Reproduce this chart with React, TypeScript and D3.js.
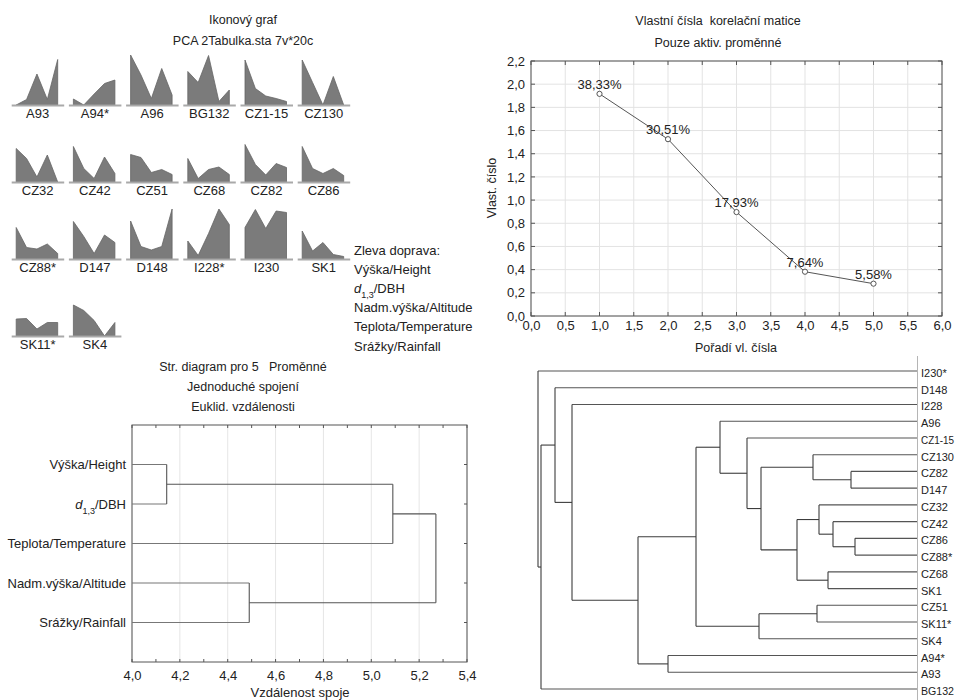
import React, { useEffect, useRef } from 'react'
import * as d3 from 'd3'

// ---- icon plot data (variables scaled 0..1, left to right)
const iconVariables = ['Výška/Height', 'd1,3/DBH', 'Nadm.výška/Altitude', 'Teplota/Temperature', 'Srážky/Rainfall']
const iconCases = ['A93', 'A94*', 'A96', 'BG132', 'CZ1-15', 'CZ130', 'CZ32', 'CZ42', 'CZ51', 'CZ68', 'CZ82', 'CZ86', 'CZ88*', 'D147', 'D148', 'I228*', 'I230', 'SK1', 'SK11*', 'SK4']
const iconValues = [
  [0, 0.11, 0.62, 0.11, 0.91],
  [0.12, 0, 0.22, 0.43, 0.5],
  [1.0, 0.6, 0.13, 0.73, 0.2],
  [0.67, 0.45, 0.99, 0.07, 0.3],
  [0.9, 0.33, 0.18, 0.13, 0.07],
  [0.9, 0.45, 0, 0.57, 0],
  [0.67, 0.47, 0.1, 0.54, 0],
  [0.71, 0.27, 0.07, 0.5, 0.17],
  [0.55, 0.49, 0.19, 0.25, 0.15],
  [0.47, 0.07, 0.25, 0.3, 0.15],
  [0.75, 0.35, 0.14, 0.37, 0.29],
  [0.71, 0.27, 0.17, 0.27, 0.13],
  [0.63, 0.23, 0.2, 0.3, 0.11],
  [0.75, 0.45, 0.11, 0.48, 0.33],
  [0.76, 0.25, 0.18, 0.25, 1.0],
  [0.36, 0.07, 0.51, 1.0, 0.69],
  [0.63, 0.99, 0.61, 0.96, 0.93],
  [0.56, 0.16, 0.33, 0.09, 0.05],
  [0.34, 0.35, 0.14, 0.27, 0.27],
  [0.62, 0.51, 0.31, 0, 0.27],
]

// ---- scree plot
const screeOrder = [1, 2, 3, 4, 5]
const screeEigen = [1.9165, 1.5255, 0.8965, 0.382, 0.279]
const screePercent = ['38,33%', '30,51%', '17,93%', '7,64%', '5,58%']
const screeXTicks = [0, 0.5, 1, 1.5, 2, 2.5, 3, 3.5, 4, 4.5, 5, 5.5, 6]
const screeYTicks = [0, 0.2, 0.4, 0.6, 0.8, 1.0, 1.2, 1.4, 1.6, 1.8, 2.0, 2.2]

// ---- variable tree (single linkage, euclid)
const varLeaves = ['Výška/Height', 'd1,3/DBH', 'Teplota/Temperature', 'Nadm.výška/Altitude', 'Srážky/Rainfall']
const varMerges = [
  { id: 'v1', a: 'Výška/Height', b: 'd1,3/DBH', h: 4.145 },
  { id: 'v2', a: 'Nadm.výška/Altitude', b: 'Srážky/Rainfall', h: 4.49 },
  { id: 'v3', a: 'v1', b: 'Teplota/Temperature', h: 5.09 },
  { id: 'v4', a: 'v3', b: 'v2', h: 5.27 },
]
const varXTicks = [4.0, 4.2, 4.4, 4.6, 4.8, 5.0, 5.2, 5.4]
const varMinorTicks = [4.1, 4.3, 4.5, 4.7, 4.9, 5.1, 5.3]

// ---- case tree
const caseLeaves = ['I230*', 'D148', 'I228', 'A96', 'CZ1-15', 'CZ130', 'CZ82', 'D147', 'CZ32', 'CZ42', 'CZ86', 'CZ88*', 'CZ68', 'SK1', 'CZ51', 'SK11*', 'SK4', 'A94*', 'A93', 'BG132']
const caseMerges = [
  { id: 'N', a: 'CZ82', b: 'D147', h: 0.66 },
  { id: 'R', a: 'CZ86', b: 'CZ88*', h: 0.62 },
  { id: 'P', a: 'CZ68', b: 'SK1', h: 0.89 },
  { id: 'S', a: 'CZ51', b: 'SK11*', h: 1.0 },
  { id: 'Q', a: 'CZ42', b: 'R', h: 0.84 },
  { id: 'O', a: 'CZ32', b: 'Q', h: 0.98 },
  { id: 'M', a: 'O', b: 'P', h: 1.2 },
  { id: 'L', a: 'CZ130', b: 'N', h: 1.04 },
  { id: 'K', a: 'L', b: 'M', h: 1.56 },
  { id: 'J', a: 'CZ1-15', b: 'K', h: 1.7 },
  { id: 'H', a: 'A96', b: 'J', h: 1.97 },
  { id: 'I', a: 'S', b: 'SK4', h: 1.58 },
  { id: 'F', a: 'H', b: 'I', h: 2.21 },
  { id: 'G', a: 'A94*', b: 'A93', h: 2.49 },
  { id: 'E', a: 'F', b: 'G', h: 2.79 },
  { id: 'D', a: 'I228', b: 'E', h: 3.45 },
  { id: 'C', a: 'D148', b: 'D', h: 3.62 },
  { id: 'B', a: 'C', b: 'BG132', h: 3.76 },
  { id: 'A', a: 'I230*', b: 'B', h: 3.79 },
]

const font = 'Arial, "Liberation Sans", sans-serif'
const ink = '#222'
const fmt = d3.formatLocale({ decimal: ',', thousands: ' ', grouping: [3], currency: ['', ''] }).format('.1f')

const App = () => {
  const svgRef = useRef(null)

  useEffect(() => {
    const svg = d3.select(svgRef.current)
    svg.selectAll('*').remove()

    const label = (g, x, y, txt, size = 12.5, anchor = 'middle') =>
      g.append('text')
        .attr('x', x)
        .attr('y', y)
        .attr('text-anchor', anchor)
        .style('font-family', font)
        .style('font-size', size + 'px')
        .style('white-space', 'pre')
        .style('fill', ink)
        .text(txt)

    // ================= icon plot
    const ic = svg.append('g')
    label(ic, 243, 24, 'Ikonový graf')
    label(ic, 243, 45, 'PCA 2Tabulka.sta 7v*20c')

    const iconX = d3.scalePoint().domain(iconVariables).range([4.5, 46])
    const iconY = d3.scaleLinear().domain([0, 1]).range([0, -50])
    const area = d3.area()
      .x((d, i) => iconX(iconVariables[i]))
      .y0(0)
      .y1((d) => iconY(d))

    iconCases.forEach((name, i) => {
      const col = i % 6
      const row = Math.floor(i / 6)
      const g = ic.append('g').attr('transform', `translate(${11.7 + col * 57.2},${105 + row * 77})`)
      g.append('path')
        .datum(iconValues[i])
        .attr('d', area)
        .attr('fill', '#7b7b7b')
        .attr('stroke', '#666')
        .attr('stroke-width', 0.8)
      g.append('line')
        .attr('x1', 0).attr('x2', 52.5)
        .attr('y1', 0.5).attr('y2', 0.5)
        .attr('stroke', '#a9a9a9')
        .attr('stroke-width', 2)
      label(g, 26, 13, name, 13)
    })

    const legendLines = ['Zleva doprava:', ...iconVariables]
    legendLines.forEach((t, i) => {
      const tx = label(ic, 354, 254.5 + i * 19.2, '', 13, 'start')
      if (t.startsWith('d1,3')) {
        tx.append('tspan').style('font-style', 'italic').text('d')
        tx.append('tspan').attr('baseline-shift', 'sub').style('font-size', '9px').text('1,3')
        tx.append('tspan').text('/DBH')
      } else tx.text(t)
    })

    // ================= scree plot
    const sc = svg.append('g')
    const sx = d3.scaleLinear().domain([0, 6]).range([531, 942])
    const sy = d3.scaleLinear().domain([0, 2.2]).range([316, 61])
    label(sc, 718, 25, 'Vlastní čísla  korelační matice')
    label(sc, 718, 47, 'Pouze aktiv. proměnné')

    sc.append('g').selectAll('line').data(screeXTicks).enter().append('line')
      .attr('x1', (d) => sx(d)).attr('x2', (d) => sx(d))
      .attr('y1', sy(0)).attr('y2', sy(2.2))
      .attr('stroke', '#e3e3e3')
    sc.append('g').selectAll('line').data(screeYTicks).enter().append('line')
      .attr('x1', sx(0)).attr('x2', sx(6))
      .attr('y1', (d) => sy(d)).attr('y2', (d) => sy(d))
      .attr('stroke', '#e3e3e3')

    const frameTicks = (g, xs, ys, xt, len) => {
      g.append('g').selectAll('line').data(xt).enter().append('line')
        .attr('x1', (d) => xs(d)).attr('x2', (d) => xs(d))
        .attr('y1', ys[1]).attr('y2', ys[1] + len)
        .attr('stroke', '#555')
      g.append('g').selectAll('line').data(xt).enter().append('line')
        .attr('x1', (d) => xs(d)).attr('x2', (d) => xs(d))
        .attr('y1', ys[0]).attr('y2', ys[0] - len)
        .attr('stroke', '#555')
    }
    frameTicks(sc, sx, [316, 61], screeXTicks, 4)
    sc.append('g').selectAll('line').data(screeYTicks).enter().append('line')
      .attr('x1', sx(6)).attr('x2', sx(6) - 4)
      .attr('y1', (d) => sy(d)).attr('y2', (d) => sy(d))
      .attr('stroke', '#555')
    sc.append('g').selectAll('line').data(screeYTicks).enter().append('line')
      .attr('x1', sx(0)).attr('x2', sx(0) + 4)
      .attr('y1', (d) => sy(d)).attr('y2', (d) => sy(d))
      .attr('stroke', '#555')

    sc.append('rect')
      .attr('x', 531).attr('y', 61).attr('width', 411).attr('height', 255)
      .attr('fill', 'none').attr('stroke', '#555')

    const xAxis = sc.append('g')
      .attr('transform', 'translate(0,316)')
      .call(d3.axisBottom(sx).tickValues(screeXTicks).tickFormat(fmt).tickSize(0).tickPadding(5))
    const yAxis = sc.append('g')
      .attr('transform', 'translate(531,0)')
      .call(d3.axisLeft(sy).tickValues(screeYTicks).tickFormat(fmt).tickSize(0).tickPadding(6))
    ;[xAxis, yAxis].forEach((a) => {
      a.select('.domain').remove()
      a.selectAll('text').style('font-family', font).style('font-size', '13px').style('fill', ink)
    })

    label(sc, 736, 352, 'Pořadí vl. čísla', 12.5)
    label(sc, 0, 0, 'Vlast. číslo', 12.5).attr('transform', 'translate(496,188) rotate(-90)')

    const line = d3.line().x((d, i) => sx(screeOrder[i])).y((d) => sy(d))
    sc.append('path').datum(screeEigen).attr('d', line)
      .attr('fill', 'none').attr('stroke', '#555').attr('stroke-width', 1)
    sc.append('g').selectAll('circle').data(screeEigen).enter().append('circle')
      .attr('cx', (d, i) => sx(screeOrder[i])).attr('cy', (d) => sy(d)).attr('r', 2.6)
      .attr('fill', '#fff').attr('stroke', '#555').attr('stroke-width', 1)
    screeEigen.forEach((v, i) => label(sc, sx(screeOrder[i]), sy(v) - 5, screePercent[i], 13))

    // ================= variable tree
    const vt = svg.append('g')
    label(vt, 243, 371, 'Str. diagram pro 5   Proměnné')
    label(vt, 243, 391, 'Jednoduché spojení')
    label(vt, 243, 411, 'Euklid. vzdálenosti')
    const vx = d3.scaleLinear().domain([4.0, 5.4]).range([132, 467])
    const vy = d3.scaleLinear().domain([0, varLeaves.length + 1]).range([425, 662])

    vt.append('g').selectAll('line').data(varXTicks).enter().append('line')
      .attr('x1', (d) => vx(d)).attr('x2', (d) => vx(d))
      .attr('y1', 425).attr('y2', 662)
      .attr('stroke', '#e6e6e6')
    frameTicks(vt, vx, [662, 425], [...varXTicks, ...varMinorTicks], 3)
    vt.append('g').selectAll('line').data(varLeaves).enter().append('line')
      .attr('x1', vx(5.4)).attr('x2', vx(5.4) - 3)
      .attr('y1', (d, i) => vy(i + 1)).attr('y2', (d, i) => vy(i + 1))
      .attr('stroke', '#555')
    vt.append('rect')
      .attr('x', 132).attr('y', 425).attr('width', 335).attr('height', 237)
      .attr('fill', 'none').attr('stroke', '#555')

    const vAxis = vt.append('g')
      .attr('transform', 'translate(0,662)')
      .call(d3.axisBottom(vx).tickValues(varXTicks).tickFormat(fmt).tickSize(0).tickPadding(9))
    vAxis.select('.domain').remove()
    vAxis.selectAll('text').style('font-family', font).style('font-size', '13px').style('fill', ink)
    label(vt, 300, 697, 'Vzdálenost spoje', 13)

    varLeaves.forEach((t, i) => {
      const tx = label(vt, 126, vy(i + 1) + 4.5, '', 13, 'end')
      if (t.startsWith('d1,3')) {
        tx.append('tspan').style('font-style', 'italic').text('d')
        tx.append('tspan').attr('baseline-shift', 'sub').style('font-size', '9px').text('1,3')
        tx.append('tspan').text('/DBH')
      } else tx.text(t)
    })

    const drawTree = (g, leaves, merges, xs, ys, leafX, stroke, leafStroke) => {
      const pos = new Map()
      leaves.forEach((l, i) => pos.set(l, { x: leafX, y: ys(l, i), leaf: true }))
      merges.forEach((m) => {
        const a = pos.get(m.a)
        const b = pos.get(m.b)
        const x = xs(m.h)
        ;[a, b].forEach((c) => {
          g.append('line')
            .attr('x1', c.x).attr('x2', x).attr('y1', c.y).attr('y2', c.y)
            .attr('stroke', c.leaf ? leafStroke : stroke).attr('stroke-width', 1.1)
        })
        g.append('line')
          .attr('x1', x).attr('x2', x).attr('y1', a.y).attr('y2', b.y)
          .attr('stroke', stroke).attr('stroke-width', 1.1)
        pos.set(m.id, { x, y: (a.y + b.y) / 2, leaf: false })
      })
    }
    drawTree(vt, varLeaves, varMerges, vx, (l, i) => vy(i + 1), vx(4.0), '#555', '#777')

    // ================= case tree
    const ct = svg.append('g')
    const cx = d3.scaleLinear().domain([0, 3.79]).range([917, 538])
    const cy = d3.scalePoint().domain(caseLeaves).range([371, 689])
    ct.append('line')
      .attr('x1', 917.5).attr('x2', 917.5).attr('y1', 356).attr('y2', 700)
      .attr('stroke', '#b5b5b5')
    drawTree(ct, caseLeaves, caseMerges, cx, (l) => cy(l), cx(0), '#3c3c3c', '#555')
    caseLeaves.forEach((l) => {
      const t = label(ct, 921, cy(l) + 6, l, 11, 'start')
      // squeeze labels that would run past the right edge
      const w = t.node().getComputedTextLength()
      if (921 + w > 954) t.attr('textLength', 954 - 921).attr('lengthAdjust', 'spacingAndGlyphs')
    })
  }, [])

  return (
    <svg
      ref={svgRef}
      width={955}
      height={700}
      style={{ position: 'absolute', left: 0, top: 0, background: '#fff' }}
    ></svg>
  )
}

export default App
